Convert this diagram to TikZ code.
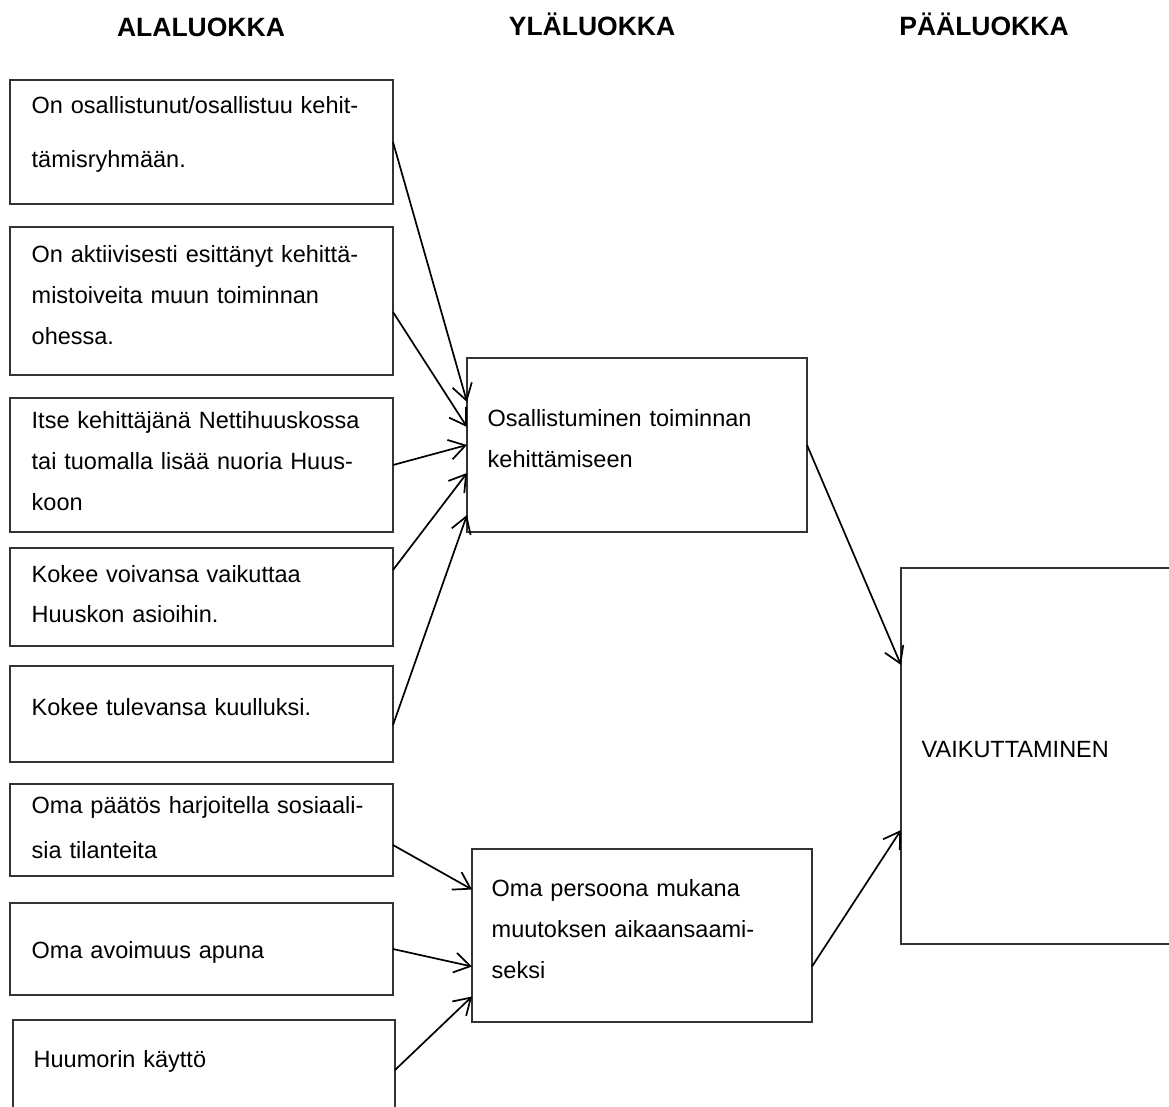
\documentclass[tikz,border=0pt]{standalone}
\usepackage{fontspec}
\setmainfont{Liberation Sans}
\usetikzlibrary{positioning,calc,arrows.meta}

\begin{document}
\begin{tikzpicture}[x=1pt,y=-1pt,line width=1.4pt,>={Straight Barb[length=16pt,width=20pt]}]

  \tikzstyle{abox}=[draw=black!80,shape=rectangle,minimum width=383pt,inner sep=0pt,outer sep=0pt,anchor=north west]
  \tikzstyle{txt}=[inner sep=0pt,anchor=base west,text width=370pt,align=left,font=\fontsize{23.5}{41}\selectfont]
  \tikzstyle{head}=[inner sep=0pt,anchor=base,font=\bfseries\fontsize{26.5}{30}\selectfont]

  \useasboundingbox (0,0) rectangle (1169,1106);
  \clip (0,0) rectangle (1169,1106);

  \node[head] (h1) at (201,36) {ALALUOKKA};
  \node[head] (h2) at (592,35) {YLÄLUOKKA};
  \node[head] (h3) at (984,35) {PÄÄLUOKKA};

  % alaluokat
  \node[abox,minimum height=124pt] (a1) at (10,80) {};
  \node[abox,minimum height=148pt] (a2) [below=23pt of a1.south west,anchor=north west] {};
  \node[abox,minimum height=134pt] (a3) [below=23pt of a2.south west,anchor=north west] {};
  \node[abox,minimum height=98pt]  (a4) [below=16pt of a3.south west,anchor=north west] {};
  \node[abox,minimum height=96pt]  (a5) [below=20pt of a4.south west,anchor=north west] {};
  \node[abox,minimum height=92pt]  (a6) [below=22pt of a5.south west,anchor=north west] {};
  \node[abox,minimum height=92pt]  (a7) [below=27pt of a6.south west,anchor=north west] {};
  \node[abox,minimum height=100pt,minimum width=382pt] (a8) [below=25pt of a7.south west,anchor=north west,xshift=3pt] {};

  % ylaluokat ja paaluokka
  \node[abox,minimum width=340pt,minimum height=174pt] (y1) at (467,358) {};
  \node[abox,minimum width=340pt,minimum height=173pt] (y2) at (472,849) {};
  \node[abox,minimum width=300pt,minimum height=376pt] (p1) at (901,568) {};

  \node[txt,font=\fontsize{23.5}{54}\selectfont] (t1) at ($(a1.north west)+(21,33)$) {On osallistunut/osallistuu kehit-\\tämisryhmään.};
  \node[txt] (t2) at ($(a2.north west)+(21,35)$) {On aktiivisesti esittänyt kehittä-\\mistoiveita muun toiminnan\\ohessa.};
  \node[txt] (t3) at ($(a3.north west)+(21,30)$) {Itse kehittäjänä Nettihuuskossa\\tai tuomalla lisää nuoria Huus-\\koon};
  \node[txt,font=\fontsize{23.5}{40}\selectfont] (t4) at ($(a4.north west)+(21,34)$) {Kokee voivansa vaikuttaa\\Huuskon asioihin.};
  \node[txt] (t5) at ($(a5.north west)+(21,49)$) {Kokee tulevansa kuulluksi.};
  \node[txt,font=\fontsize{23.5}{45}\selectfont] (t6) at ($(a6.north west)+(21,29)$) {Oma päätös harjoitella sosiaali-\\sia tilanteita};
  \node[txt] (t7) at ($(a7.north west)+(21,55)$) {Oma avoimuus apuna};
  \node[txt] (t8) at ($(a8.north west)+(20,47)$) {Huumorin käyttö};
  \node[txt,text width=310pt] (t9) at ($(y1.north west)+(20,68)$) {Osallistuminen toiminnan\\kehittämiseen};
  \node[txt,text width=310pt] (t10) at ($(y2.north west)+(19,47)$) {Oma persoona mukana\\muutoksen aikaansaami-\\seksi};
  \node[txt,text width=240pt] (t11) at ($(p1.north west)+(20,189)$) {VAIKUTTAMINEN};

  \path[->,black,line width=1.7pt]
            (a1.east)               edge ([yshift=43pt]y1.west)
            ([yshift=-11pt]a2.east) edge ([yshift=18pt]y1.west)
            (a3.east)               edge (y1.west)
            ([yshift=27pt]a4.east)  edge ([yshift=-28pt]y1.west)
            ([yshift=-11pt]a5.east) edge ([yshift=-70pt]y1.west);

  \path[->,black,line width=1.7pt]
            ([yshift=-15pt]a6.east) edge ([yshift=46pt]y2.west)
            (a7.east)               edge ([yshift=-31pt]y2.west)
            (a8.east)               edge ([yshift=-61pt]y2.west);

  \path[->,black,line width=1.7pt]
            (y1.east)               edge ([yshift=91pt]p1.west)
            ([yshift=-31pt]y2.east) edge ([yshift=-74pt]p1.west);

\end{tikzpicture}
\end{document}
